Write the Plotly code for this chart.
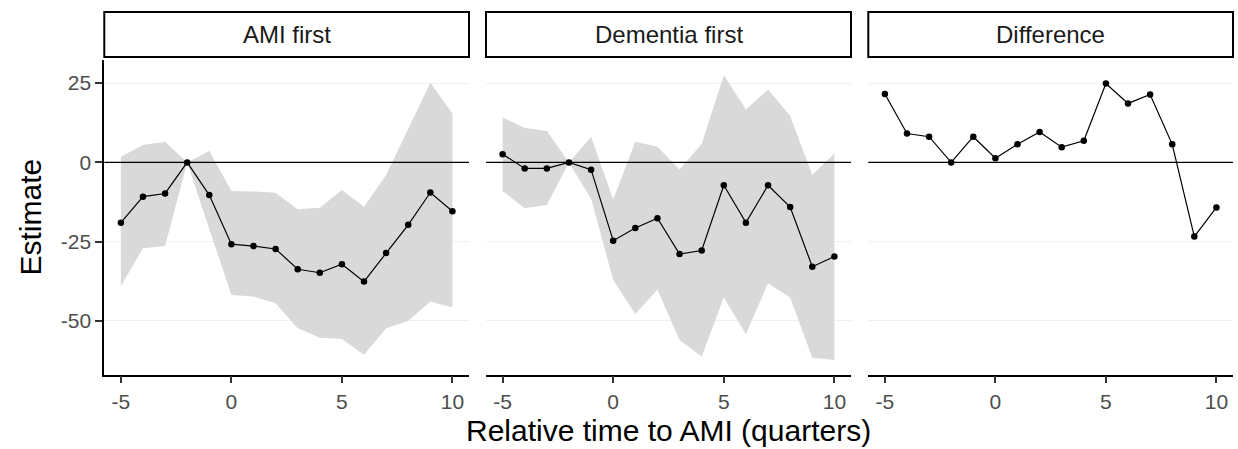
import plotly.graph_objects as go

W, H = 1238, 449

# Relative time (quarters)
quarters = [-5, -4, -3, -2, -1, 0, 1, 2, 3, 4, 5, 6, 7, 8, 9, 10]

# AMI first: estimate and 95% band
ami_est = [-19.0, -10.8, -9.8, 0.0, -10.3, -25.8, -26.4, -27.3, -33.7, -34.8, -32.1, -37.6, -28.6, -19.7, -9.5, -15.4]
ami_hi = [1.8, 5.5, 6.5, 0.0, 3.6, -9.0, -9.2, -9.6, -14.8, -14.3, -8.7, -14.0, -4.0, 10.7, 25.1, 15.4]
ami_lo = [-39.0, -27.1, -26.4, 0.0, -21.0, -41.8, -42.3, -44.4, -52.3, -55.3, -55.7, -60.7, -52.3, -50.0, -43.9, -45.8]

# Dementia first: estimate and 95% band
dem_est = [2.6, -1.9, -1.9, 0.0, -2.3, -24.7, -20.7, -17.6, -28.9, -27.8, -7.2, -19.0, -7.2, -14.1, -32.9, -29.7]
dem_hi = [14.2, 10.9, 9.9, 0.0, 8.1, -11.7, 6.5, 4.9, -2.2, 5.8, 27.5, 16.7, 23.0, 14.6, -4.0, 2.8]
dem_lo = [-9.0, -14.5, -13.4, 0.0, -11.5, -37.1, -47.8, -40.2, -56.0, -61.2, -42.6, -54.2, -38.1, -42.6, -61.6, -62.3]

# Difference between the two orderings
diff_est = [21.6, 9.1, 8.1, 0.0, 8.1, 1.3, 5.7, 9.6, 4.8, 6.8, 24.9, 18.6, 21.4, 5.7, -23.4, -14.2]

panel_titles = ["AMI first", "Dementia first", "Difference"]
y_ticks = [-50, -25, 0, 25]
x_ticks = [-5, 0, 5, 10]

FONT = "Liberation Sans"
RIBBON = "#D9D9D9"

# panel geometry in pixels (left, right), shared top/bottom
panels_px = [(104.3, 469.0), (486.0, 851.0), (868.3, 1233.0)]
top_px, bot_px = 60.0, 374.5
strip_top, strip_bot = 12.0, 57.0

fig = go.Figure()

series = [
    (ami_est, ami_lo, ami_hi),
    (dem_est, dem_lo, dem_hi),
    (diff_est, None, None),
]

for i, (est, lo, hi) in enumerate(series):
    xa = "x" if i == 0 else f"x{i + 1}"
    ya = "y" if i == 0 else f"y{i + 1}"
    if lo is not None:
        fig.add_trace(go.Scatter(
            x=quarters + quarters[::-1],
            y=hi + lo[::-1],
            fill="toself", fillcolor=RIBBON,
            line=dict(width=0, color=RIBBON),
            mode="lines", hoverinfo="skip", showlegend=False,
            xaxis=xa, yaxis=ya,
        ))
    fig.add_trace(go.Scatter(
        x=quarters, y=est, mode="lines+markers",
        line=dict(color="black", width=1.2),
        marker=dict(color="black", size=6.5),
        showlegend=False, xaxis=xa, yaxis=ya,
    ))

layout = dict(
    width=W, height=H,
    margin=dict(l=0, r=0, t=0, b=0),
    paper_bgcolor="white", plot_bgcolor="white",
    font=dict(family=FONT, color="#4D4D4D"),
    showlegend=False,
)

shapes = []
annotations = []
ydom = [1 - bot_px / H, 1 - top_px / H]

for i, (l, r) in enumerate(panels_px):
    sfx = "" if i == 0 else str(i + 1)
    layout[f"xaxis{sfx}"] = dict(
        domain=[l / W, r / W], range=[-5.75, 10.75],
        anchor=f"y{sfx}", showgrid=False, zeroline=False,
        showline=True, linecolor="black", linewidth=1.8,
        ticks="outside", ticklen=7, tickwidth=1.5, tickcolor="#333333",
        tickvals=x_ticks, ticktext=[str(v) for v in x_ticks],
        tickfont=dict(family=FONT, size=21, color="#4D4D4D"),
        fixedrange=True,
    )
    layout[f"yaxis{sfx}"] = dict(
        domain=ydom, range=[-66.9, 32.3],
        anchor=f"x{sfx}", zeroline=False,
        showgrid=True, gridcolor="#F0F0F0", gridwidth=1,
        tickvals=y_ticks, ticktext=[str(v) for v in y_ticks],
        showline=(i == 0), linecolor="black", linewidth=1.8,
        ticks="outside" if i == 0 else "", ticklen=7, tickwidth=1.5,
        tickcolor="#333333",
        showticklabels=(i == 0),
        tickfont=dict(family=FONT, size=21, color="#4D4D4D"),
        fixedrange=True,
    )
    # reference line at zero, drawn over the ribbon
    shapes.append(dict(
        type="line", xref=f"x{sfx} domain", yref=f"y{sfx}",
        x0=0, x1=1, y0=0, y1=0,
        line=dict(color="black", width=1.2), layer="above",
    ))
    # facet strip box
    shapes.append(dict(
        type="rect", xref="paper", yref="paper",
        x0=l / W, x1=r / W, y0=1 - strip_bot / H, y1=1 - strip_top / H,
        line=dict(color="black", width=2), fillcolor="white", layer="above",
    ))
    annotations.append(dict(
        text=panel_titles[i], xref="paper", yref="paper",
        x=(l + r) / 2 / W, y=1 - (strip_top + strip_bot) / 2 / H,
        xanchor="center", yanchor="middle", showarrow=False,
        font=dict(family=FONT, size=24, color="#1A1A1A"),
    ))

annotations.append(dict(
    text="Relative time to AMI (quarters)", xref="paper", yref="paper",
    x=668.5 / W, y=1 - 430 / H, xanchor="center", yanchor="middle",
    showarrow=False, font=dict(family=FONT, size=30, color="black"),
))
annotations.append(dict(
    text="Estimate", xref="paper", yref="paper",
    x=30 / W, y=1 - 217.5 / H, xanchor="center", yanchor="middle",
    textangle=-90, showarrow=False,
    font=dict(family=FONT, size=30, color="black"),
))

layout["shapes"] = shapes
layout["annotations"] = annotations
fig.update_layout(**layout)

fig.write_html("out.html", config={"displayModeBar": False})
